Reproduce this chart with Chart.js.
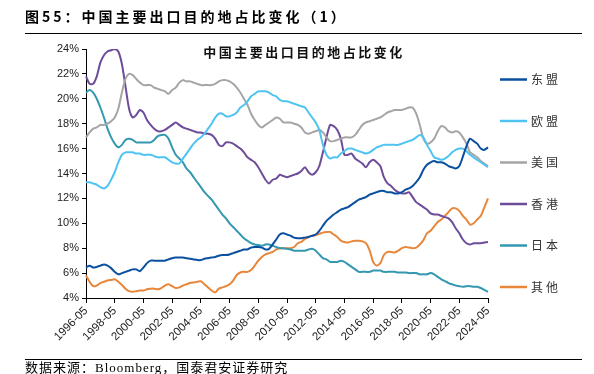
<!DOCTYPE html>
<html>
<head>
<meta charset="utf-8">
<script src="https://cdn.jsdelivr.net/npm/chart.js@4"></script>
<style>
  html, body { margin: 0; padding: 0; background: #fff; }
  #wrap { position: relative; width: 594px; height: 374px; overflow: hidden; }
  #chart { position: absolute; left: 0; top: 0; }
  .head { position: absolute; left: 25px; top: 6px; font: bold 14px "Noto Sans CJK SC"; letter-spacing: 3px; color: #000; white-space: nowrap; }
  .rule { position: absolute; left: 25px; width: 557px; height: 0; border-top: 1px solid #000; }
  .foot { position: absolute; left: 25px; top: 361px; font: 13px/14px "Liberation Serif", "Noto Sans CJK SC"; letter-spacing: 1px; color: #000; white-space: nowrap; }
</style>
</head>
<body>
<div id="wrap">
  <canvas id="chart" width="594" height="374"></canvas>
  <div class="head">图55：中国主要出口目的地占比变化（1）</div>
  <div class="rule" style="top:33px"></div>
  <div class="rule" style="top:359px"></div>
  <div class="foot">数据来源：Bloomberg，国泰君安证券研究</div>
</div>
<script>
// quarterly points, 1996-05 .. 2024-05
const quarterLabels = [];
for (let y = 1996; y <= 2024; y++) {
  quarterLabels.push(y + '-05');
  if (y === 2024) break;
  quarterLabels.push(y + '-08', y + '-11', (y + 1) + '-02');
}

const seriesNames = ['东盟', '欧盟', '美国', '香港', '日本', '其他'];
const seriesColors = ['#0b50a0', '#4fc3f2', '#a5a5a5', '#6d4c9a', '#3398b0', '#e8863a'];

const asean = [
  6.45, 6.6, 6.45, 6.5,  6.6, 6.7, 6.6, 6.4,  6.1, 5.9, 6.0, 6.1,  6.2, 6.3, 6.3, 6.15,
  6.45, 6.8, 7.0, 7.0,  7.0, 7.0, 7.0, 7.1,  7.2, 7.25, 7.25, 7.25,  7.2, 7.15, 7.1, 7.05,
  7.05, 7.15, 7.2, 7.25,  7.3, 7.4, 7.45, 7.45,  7.5, 7.6, 7.7, 7.8,  7.9, 7.9, 8.05, 8.1,
  8.1, 8.05, 7.9, 7.95,  8.3, 8.7, 9.1, 9.2,  9.1, 9.0, 8.85, 8.8,  8.8, 8.85, 8.9, 9.0,
  9.1, 9.4, 9.8, 10.2,  10.45, 10.7, 10.9, 11.1,  11.2, 11.3, 11.5, 11.7,  11.9, 12.0, 12.1, 12.3,
  12.4, 12.5, 12.6, 12.6,  12.5, 12.5, 12.4, 12.4,  12.5, 12.7, 12.8, 13.0,  13.3, 13.7, 14.3, 14.7,
  14.9, 15.0, 14.9, 14.9,  14.8, 14.6, 14.5, 14.4,  14.6, 15.35, 16.2, 16.8,  16.6, 16.4, 16.0, 15.9,
  16.1
];
const eu = [
  13.3, 13.3, 13.2, 13.1,  12.9, 12.8, 13.0, 13.5,  14.1, 14.9, 15.5, 15.7,  15.7, 15.7, 15.6, 15.6,
  15.5, 15.5, 15.5, 15.4,  15.3, 15.3, 15.3, 15.1,  14.9, 14.8, 14.8, 15.2,  15.6, 16.0, 16.4, 16.7,
  16.9, 17.2, 17.6, 18.0,  18.5, 18.8, 18.8, 18.6,  18.6, 18.7, 18.9, 19.3,  19.5, 19.8, 20.2, 20.4,
  20.6, 20.6, 20.6, 20.5,  20.3, 20.2, 19.9, 19.8,  19.8, 19.7, 19.6, 19.5,  19.4, 19.3, 18.9, 18.5,
  18.1, 17.5, 16.3, 15.5,  15.2, 15.3, 15.3, 15.6,  15.8, 16.0, 16.0, 15.9,  15.8, 15.7, 15.6, 15.7,
  15.9, 16.1, 16.2, 16.3,  16.3, 16.3, 16.3, 16.3,  16.4, 16.5, 16.6, 16.7,  16.9, 17.1, 16.9, 16.3,
  15.8, 15.3, 15.2, 15.1,  15.2, 15.4, 15.7, 15.9,  16.0, 16.0, 15.8, 15.5,  15.3, 15.1, 14.9, 14.7,
  14.5
];
const us = [
  16.9, 17.3, 17.6, 17.7,  17.9, 17.9, 18.0, 18.2,  18.5, 19.2, 20.5, 21.6,  22.0, 21.9, 21.6, 21.3,
  21.1, 21.1, 21.1, 20.9,  20.8, 20.7, 20.6, 20.4,  20.7, 20.9, 21.3, 21.5,  21.4, 21.4, 21.3, 21.2,
  21.1, 21.1, 21.1, 21.1,  21.2, 21.4, 21.5, 21.5,  21.4, 21.2, 20.9, 20.5,  20.0, 19.5, 18.8, 18.3,
  17.9, 17.7, 17.9, 18.1,  18.3, 18.5, 18.4, 18.1,  18.1, 18.1, 18.0, 17.9,  17.7, 17.3, 17.2, 17.3,
  17.4, 17.5, 17.3, 16.9,  16.6, 16.6, 16.7, 16.8,  16.9, 16.9, 16.9, 17.1,  17.5, 17.9, 18.1, 18.2,
  18.3, 18.4, 18.5, 18.7,  18.9, 19.0, 19.1, 19.1,  19.1, 19.2, 19.3, 19.3,  18.8, 17.9, 16.8, 16.4,
  16.5, 16.8, 17.4, 17.8,  17.7, 17.4, 17.3, 17.4,  17.3, 16.9, 16.4, 15.7,  15.5, 15.3, 15.0, 14.8,
  14.6
];
const hongKong = [
  21.8, 21.2, 21.2, 21.8,  22.9, 23.5, 23.8, 23.9,  24.0, 23.8, 22.8, 21.0,  19.2, 18.5, 18.7, 19.1,
  18.9, 18.3, 17.9, 17.6,  17.4, 17.4, 17.5, 17.7,  17.9, 18.1, 17.9, 17.7,  17.6, 17.5, 17.4, 17.3,
  17.3, 17.2, 17.2, 17.1,  16.8, 16.3, 16.2, 16.5,  16.5, 16.4, 16.2, 16.0,  15.7, 15.3, 15.1, 14.9,
  14.5, 14.0, 13.5, 13.2,  13.5, 13.6, 13.9, 13.8,  13.7, 13.8, 13.9, 14.0,  14.2, 14.5, 14.1, 13.9,
  14.1, 14.6, 15.7, 16.9,  17.9, 17.8, 17.5, 16.8,  15.5, 15.5, 15.6, 15.2,  15.0, 14.8, 14.5, 14.9,
  15.1, 14.9, 14.6, 13.7,  13.2, 13.0, 12.7, 12.5,  12.4, 12.4, 12.5, 12.1,  11.7, 11.5, 11.3, 11.1,
  10.8, 10.7, 10.7, 10.6,  10.5, 10.4, 10.1, 9.6,  9.2, 8.7, 8.4, 8.3,  8.4, 8.4, 8.4, 8.45,
  8.5
];
const japan = [
  20.5, 20.7, 20.5, 20.0,  19.3, 18.5, 17.6, 16.9,  16.4, 16.1, 16.3, 16.7,  16.8, 16.7, 16.5, 16.5,
  16.5, 16.5, 16.5, 16.7,  17.0, 17.1, 17.1, 16.8,  16.1, 15.5, 15.2, 14.9,  14.4, 14.1, 13.7, 13.3,
  12.9, 12.5, 12.2, 11.9,  11.5, 11.1, 10.7, 10.4,  10.0, 9.7, 9.4, 9.1,  8.8, 8.6, 8.4, 8.3,
  8.25, 8.2, 8.3, 8.3,  8.2, 8.1, 8.0, 8.0,  7.95, 7.9, 7.8, 7.8,  7.8, 7.8, 7.9, 7.95,
  7.8, 7.5, 7.2, 7.1,  6.9, 6.9, 6.9, 7.0,  6.9, 6.7, 6.5, 6.3,  6.1, 6.1, 6.1, 6.1,
  6.2, 6.2, 6.2, 6.1,  6.1, 6.1, 6.1, 6.05,  6.05, 6.05, 6.0, 6.0,  6.0, 5.9, 5.9, 5.9,
  6.0, 5.9, 5.7, 5.5,  5.35, 5.2, 5.1, 5.0,  4.95, 4.9, 4.95, 4.95,  4.9, 4.9, 4.8, 4.65,
  4.5
];
const others = [
  5.8, 5.3, 4.95, 5.0,  5.2, 5.3, 5.4, 5.45,  5.5, 5.3, 5.05, 4.75,  4.55, 4.5, 4.55, 4.6,
  4.6, 4.7, 4.75, 4.75,  4.7, 4.8, 5.0, 5.1,  4.95, 4.8, 4.85, 5.0,  5.1, 5.2, 5.25, 5.3,
  5.35, 5.1, 4.85, 4.6,  4.45, 4.75, 4.85, 4.95,  5.1, 5.4, 5.85, 6.05,  6.1, 6.1, 6.25, 6.6,
  7.0, 7.3, 7.5, 7.6,  7.7, 7.9, 8.0, 8.0,  8.0, 8.0, 8.1, 8.4,  8.5, 8.75, 8.9, 9.0,
  9.05, 9.15, 9.25, 9.3,  9.3, 9.1, 8.9, 8.6,  8.5, 8.45, 8.55, 8.6,  8.6, 8.55, 8.4, 7.85,
  6.9, 6.6, 6.8, 7.45,  7.7, 7.7, 7.65, 7.8,  8.0, 8.1, 8.05, 8.0,  8.05, 8.3, 8.65, 9.2,
  9.4, 9.75, 10.1, 10.3,  10.6, 10.9, 11.2, 11.2,  11.0, 10.6, 10.3, 9.9,  10.0, 10.3, 10.6, 11.3,
  12.0
];

const yTicks = [4, 24, 2]; // min, max, step
const seriesValues = [asean, eu, us, hongKong, japan, others];

const chartTitle = '中国主要出口目的地占比变化';

// draws the inner title and the right-hand legend
const decor = {
  id: 'decor',
  afterDraw(chart) {
    const ctx = chart.ctx;
    ctx.save();
    ctx.fillStyle = '#111';
    ctx.font = 'bold 13px "Noto Sans CJK SC"';
    ctx.letterSpacing = '2.5px';
    ctx.textAlign = 'center';
    ctx.textBaseline = 'middle';
    ctx.fillText(chartTitle, 304, 52);

    ctx.font = '12px "Noto Sans CJK SC"';
    ctx.letterSpacing = '3px';
    ctx.textAlign = 'left';
    chart.data.datasets.forEach((ds, i) => {
      const y = 79.5 + i * 41.5;
      ctx.strokeStyle = ds.borderColor;
      ctx.lineWidth = 2.5;
      ctx.beginPath();
      ctx.moveTo(500, y);
      ctx.lineTo(527, y);
      ctx.stroke();
      ctx.fillStyle = '#333';
      ctx.fillText(ds.label, 531, y);
    });
    ctx.restore();
  }
};

new Chart(document.getElementById('chart'), {
  type: 'line',
  data: {
    labels: quarterLabels,
    datasets: seriesNames.map((name, i) => ({
      label: name,
      data: seriesValues[i],
      borderColor: seriesColors[i],
      backgroundColor: seriesColors[i],
      borderWidth: 2,
      pointRadius: 0,
      tension: 0.25,
      fill: false
    }))
  },
  options: {
    responsive: false,
    animation: false,
    layout: { padding: { left: 0, right: 106, top: 49, bottom: 26 } },
    plugins: {
      legend: { display: false },
      tooltip: { enabled: false }
    },
    scales: {
      x: {
        grid: { drawOnChartArea: false, tickLength: 5, color: '#000' },
        border: { color: '#000', width: 1 },
        afterFit(scale) { scale.height = 50; },
        ticks: {
          autoSkip: false,
          minRotation: 45,
          maxRotation: 45,
          padding: 1,
          color: '#222',
          font: { family: '"Liberation Sans", Arial', size: 11.5 },
          callback: function (value, index) {
            return index % 8 === 0 ? quarterLabels[index] : null;
          }
        }
      },
      y: {
        min: yTicks[0],
        max: yTicks[1],
        grid: { drawOnChartArea: false, tickLength: 4, color: '#000' },
        border: { color: '#000', width: 1 },
        afterFit(scale) { scale.width = 86; },
        ticks: {
          stepSize: yTicks[2],
          padding: 3,
          color: '#222',
          font: { family: '"Liberation Sans", Arial', size: 11 },
          callback: v => v + '%'
        }
      }
    }
  },
  plugins: [decor]
});
</script>
</body>
</html>
